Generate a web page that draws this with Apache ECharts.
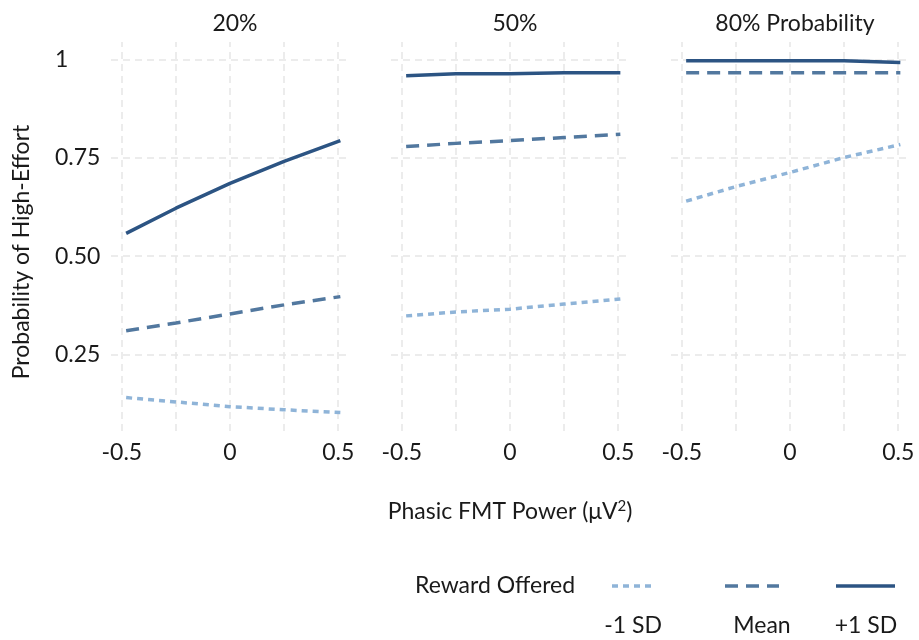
<!DOCTYPE html>
<html>
<head>
<meta charset="utf-8">
<script src="https://cdn.jsdelivr.net/npm/echarts@6/dist/echarts.min.js"></script>
<style>
  html, body { margin: 0; padding: 0; background: #fff; }
  #chart { width: 919px; height: 640px; }
</style>
</head>
<body>
<div id="chart"></div>
<script>
// Predicted probability of choosing high effort vs. phasic FMT power,
// faceted by reward probability, one line per reward level.
const xs = [-0.48, -0.25, 0, 0.25, 0.51];
const facetTitles = ['20%', '50%', '80% Probability'];
const levelNames = ['-1 SD', 'Mean', '+1 SD'];

const low20 = [0.140, 0.129, 0.117, 0.109, 0.102];
const mean20 = [0.310, 0.330, 0.353, 0.376, 0.397];
const high20 = [0.558, 0.622, 0.685, 0.741, 0.794];

const low50 = [0.348, 0.358, 0.365, 0.378, 0.391];
const mean50 = [0.779, 0.787, 0.794, 0.802, 0.810];
const high50 = [0.959, 0.964, 0.964, 0.967, 0.967];

const low80 = [0.640, 0.677, 0.713, 0.751, 0.784];
const mean80 = [0.967, 0.967, 0.967, 0.967, 0.967];
const high80 = [0.997, 0.997, 0.997, 0.997, 0.993];

const xTickValues = [-0.5, 0, 0.5];
const xGridValues = [-0.5, -0.25, 0, 0.25, 0.5];
const yTickValues = [0.25, 0.5, 0.75, 1];

const facetData = [
  [low20, mean20, high20],
  [low50, mean50, high50],
  [low80, mean80, high80]
];

const FONT = 'Lato';
const FS = 23;
const levelStyles = [
  { color: '#8fb4d8', type: [6, 5] },
  { color: '#52789f', type: [13, 8] },
  { color: '#2c5483', type: 'solid' }
];

const panelLefts = [111, 391, 671];
const panelWidth = 238;
const panelTop = 42;
const panelHeight = 389;

const grids = panelLefts.map(l => ({ left: l, top: panelTop, width: panelWidth, height: panelHeight }));

const xAxes = panelLefts.map((_, i) => ({
  type: 'value', gridIndex: i, min: -0.55, max: 0.55,
  axisLine: { show: false }, axisTick: { show: false }, splitLine: { show: false },
  axisLabel: {
    customValues: xTickValues, margin: 10,
    fontFamily: FONT, fontSize: FS, color: '#1a1a1a',
    formatter: v => (v === 0 ? '0' : String(v))
  }
}));

const yAxes = panelLefts.map((_, i) => ({
  type: 'value', gridIndex: i, min: 0.055, max: 1.045,
  axisLine: { show: false }, axisTick: { show: false }, splitLine: { show: false },
  axisLabel: i === 0 ? {
    customValues: yTickValues, margin: 56, align: 'left',
    fontFamily: FONT, fontSize: FS, color: '#1a1a1a',
    formatter: v => (v === 1 ? '1' : v.toFixed(2))
  } : { show: false }
}));

const series = [];
panelLefts.forEach((_, i) => {
  // dashed background grid for each panel, kept beneath the data lines
  series.push({
    type: 'line', xAxisIndex: i, yAxisIndex: i, data: [], z: 1, silent: true,
    markLine: {
      z: 1, silent: true, symbol: ['none', 'none'], animation: false,
      label: { show: false },
      lineStyle: { color: '#e6e6e6', width: 1.5, type: [7, 5] },
      data: xGridValues.map(v => ({ xAxis: v })).concat(yTickValues.map(v => ({ yAxis: v })))
    }
  });
  facetData[i].forEach((vals, k) => {
    series.push({
      name: levelNames[k], type: 'line', xAxisIndex: i, yAxisIndex: i, z: 3,
      showSymbol: false, symbol: 'none', animation: false,
      lineStyle: { color: levelStyles[k].color, width: 3.5, type: levelStyles[k].type },
      data: xs.map((x, j) => [x, vals[j]])
    });
  });
});

const titles = panelLefts.map((l, i) => ({
  text: facetTitles[i], left: l + panelWidth / 2, top: 7, textAlign: 'center',
  textStyle: { fontFamily: FONT, fontSize: FS, fontWeight: 'normal', color: '#1a1a1a' }
}));

const txt = (x, y, text, align, extra) => Object.assign({
  type: 'text', x: x, y: y,
  style: { text: text, fill: '#1a1a1a', font: FS + 'px ' + FONT, align: align || 'center', verticalAlign: 'middle' }
}, extra || {});

const graphic = [
  txt(22, 252, 'Probability of High-Effort', 'center', { rotation: Math.PI / 2 }),
  {
    type: 'text', x: 510, y: 512,
    style: {
      text: '{n|Phasic FMT Power (\u03bcV}{s|2}{n|)}',
      align: 'center', verticalAlign: 'middle',
      rich: {
        n: { fontFamily: FONT, fontSize: FS, fill: '#1a1a1a' },
        s: { fontFamily: FONT, fontSize: 15, fill: '#1a1a1a', padding: [0, 0, 11, 0] }
      }
    }
  },
  txt(415, 586, 'Reward Offered', 'left'),
  { type: 'line', shape: { x1: 612, y1: 586, x2: 656, y2: 586 },
    style: { stroke: levelStyles[0].color, lineWidth: 3.5, lineDash: [6, 5] } },
  { type: 'line', shape: { x1: 725, y1: 586, x2: 779, y2: 586 },
    style: { stroke: levelStyles[1].color, lineWidth: 3.5, lineDash: [13, 8] } },
  { type: 'line', shape: { x1: 836, y1: 586, x2: 895, y2: 586 },
    style: { stroke: levelStyles[2].color, lineWidth: 3.5 } },
  txt(633, 626, levelNames[0]),
  txt(762, 626, levelNames[1]),
  txt(866, 626, levelNames[2])
];

const chart = echarts.init(document.getElementById('chart'), null, { renderer: 'canvas' });
chart.setOption({
  backgroundColor: '#ffffff',
  animation: false,
  title: titles,
  grid: grids,
  xAxis: xAxes,
  yAxis: yAxes,
  series: series,
  graphic: graphic
});
</script>
</body>
</html>
